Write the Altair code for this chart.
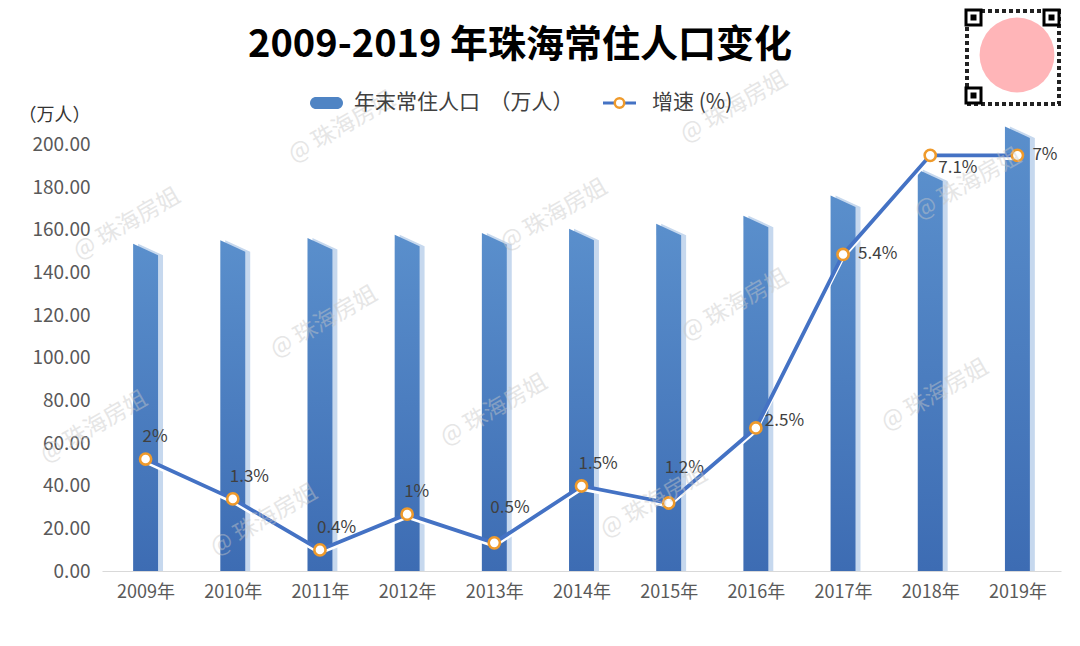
import json
import altair as alt
import pandas as pd

# ---------------- data ----------------
years = ["2009年", "2010年", "2011年", "2012年", "2013年", "2014年",
         "2015年", "2016年", "2017年", "2018年", "2019年"]
population = [153.5, 155.2, 156.2, 157.7, 158.5, 160.6, 162.9, 166.7, 176.1, 188.3, 208.5]
growth = [1.91, 1.23, 0.36, 0.97, 0.48, 1.45, 1.16, 2.44, 5.40, 7.09, 7.09]
growth_labels = ["2%", "1.3%", "0.4%", "1%", "0.5%", "1.5%", "1.2%", "2.5%", "5.4%", "7.1%", "7%"]
y_ticks = [0, 20, 40, 60, 80, 100, 120, 140, 160, 180, 200]

FONT = "Noto Sans CJK SC"
HALF_W = 0.143      # half of the bar face width (category units)
SIDE_SHIFT = 0.057  # shift of the light "side" face
SLANT = 5.4         # drop of the slanted bar top (value units)

# polygon outline of every bar, derived from the data
bar_rows = []
for i, v in enumerate(population):
    bar_rows.append({"i": i, "x": i - HALF_W, "y": v})
    bar_rows.append({"i": i, "x": i + HALF_W, "y": v - SLANT})
bars = pd.DataFrame(bar_rows)

line_df = pd.DataFrame({"i": list(range(len(years))), "g": growth, "lab": growth_labels})

xscale = alt.Scale(domain=[-0.5, len(years) - 0.5], nice=False, zero=False)
yscale = alt.Scale(domain=[0, 220], nice=False)
gscale = alt.Scale(domain=[0, 8], nice=False)

x_axis = alt.Axis(values=list(range(len(years))),
                  labelExpr=f"{json.dumps(years, ensure_ascii=False)}[datum.value]",
                  grid=False, ticks=False, domainColor="#d9d9d9", domainWidth=1.2,
                  labelFont=FONT, labelFontSize=18, labelColor="#595959",
                  labelPadding=12, title=None)
y_axis = alt.Axis(values=y_ticks, format=".2f", grid=False, ticks=False, domain=False,
                  labelFont=FONT, labelFontSize=19, labelColor="#595959", labelPadding=12,
                  title="（万人）", titleAngle=0, titleX=-84, titleY=13,
                  titleAlign="left", titleBaseline="middle", titleFont=FONT,
                  titleFontSize=18, titleFontWeight="normal", titleColor="#333333")


def X(field):
    return alt.X(field, scale=xscale, axis=x_axis)


side = alt.Chart(bars).transform_calculate(
    xs=f"datum.x + {SIDE_SHIFT}"
).mark_area(color="#c6d8ee", line=False, interpolate="linear").encode(
    x=X("xs:Q"),
    y=alt.Y("y:Q", scale=yscale, axis=y_axis, stack=None),
    detail="i:N",
)

front_grad = alt.Gradient(
    gradient="linear",
    stops=[alt.GradientStop(color="#5a8fcc", offset=0),
           alt.GradientStop(color="#3d6cb3", offset=1)],
    x1=0, x2=0, y1=0, y2=1,
)
front = alt.Chart(bars).mark_area(color=front_grad, line=False, interpolate="linear").encode(
    x=X("x:Q"),
    y=alt.Y("y:Q", scale=yscale, axis=None, stack=None),
    detail="i:N",
)

glow = alt.Chart(line_df).transform_calculate(
    gs="datum.g - 0.05"
).mark_line(color="white", strokeWidth=3.5).encode(
    x=X("i:Q"),
    y=alt.Y("gs:Q", scale=gscale, axis=None),
)
line = alt.Chart(line_df).mark_line(color="#4472c4", strokeWidth=3.8).encode(
    x=X("i:Q"),
    y=alt.Y("g:Q", scale=gscale, axis=None),
)
points = alt.Chart(line_df).mark_circle(
    color="white", opacity=1, stroke="#ef9a2b", strokeWidth=2.6, size=125
).encode(
    x=X("i:Q"),
    y=alt.Y("g:Q", scale=gscale, axis=None),
)


def labels(indices, dx, dy):
    cond = " || ".join(f"datum.i == {k}" for k in indices)
    return alt.Chart(line_df).transform_filter(cond).mark_text(
        align="left", baseline="middle", dx=dx, dy=dy,
        font=FONT, fontSize=17, color="#404040"
    ).encode(
        x=X("i:Q"),
        y=alt.Y("g:Q", scale=gscale, axis=None),
        text="lab:N",
    )


lab_layers = [
    labels([0, 1, 2, 3, 5], -3, -22),
    labels([4, 6], -4, -35),
    labels([7], 9, -7),
    labels([8, 10], 15, 0),
    labels([9], 8, 13),
]

# ---------------- decorations (title, legend, watermark, badge) ----------------
one = pd.DataFrame({"k": [0]})


def deco_text(text, px, py, **kw):
    return alt.Chart(pd.DataFrame({"t": [text]})).mark_text(**kw).encode(
        x=alt.value(px), y=alt.value(py), text="t:N")


title = deco_text("2009-2019 年珠海常住人口变化", 418, -56,
                  font=FONT, fontSize=38, fontWeight="bold", color="#000000",
                  align="center", baseline="middle")

leg_pill = alt.Chart(one).mark_rect(color="#4f84c4", cornerRadius=6).encode(
    x=alt.value(208), x2=alt.value(241), y=alt.value(-5), y2=alt.value(7))
leg_text1 = deco_text("年末常住人口 \u00a0（万人）", 252, 1, font=FONT, fontSize=21,
                      color="#404040", align="left", baseline="middle")
leg_line = alt.Chart(one).mark_rule(color="#4472c4", strokeWidth=3).encode(
    x=alt.value(501), x2=alt.value(534), y=alt.value(1))
leg_dot = alt.Chart(one).mark_circle(
    color="white", opacity=1, stroke="#ef9a2b", strokeWidth=2.5, size=90
).encode(x=alt.value(517.5), y=alt.value(1))
leg_text2 = deco_text("增速 (%)", 550, 1, font=FONT, fontSize=21,
                      color="#404040", align="left", baseline="middle")

# faint repeated watermark text
wm_spots = [(240, 25), (632, 5), (452, 113), (25, 122), (866, 82), (222, 220),
            (633, 203), (-8, 325), (392, 308), (833, 293), (162, 418),
            (552, 400)]
watermarks = [
    deco_text("@ 珠海房姐", px, py, font=FONT, fontSize=23, angle=330,
              color="#c8c8c8", opacity=0.45, align="center", baseline="middle")
    for px, py in wm_spots
]

# QR-badge corner (covered by a pink disc in the reference)
qr_frame = alt.Chart(one).mark_rect(fill=None, stroke="#222222", strokeWidth=4,
                                   strokeDash=[4, 3]).encode(
    x=alt.value(865), x2=alt.value(957), y=alt.value(-91), y2=alt.value(2))
qr_layers = [qr_frame]
for fx, fy in [(864, -92), (942, -92), (864, -14)]:
    qr_layers.append(alt.Chart(one).mark_rect(fill="white", stroke="black", strokeWidth=3).encode(
        x=alt.value(fx), x2=alt.value(fx + 15), y=alt.value(fy), y2=alt.value(fy + 15)))
    qr_layers.append(alt.Chart(one).mark_rect(fill="black").encode(
        x=alt.value(fx + 4.5), x2=alt.value(fx + 10.5),
        y=alt.value(fy + 4.5), y2=alt.value(fy + 10.5)))
pink = alt.Chart(one).mark_circle(color="#ffb5b8", opacity=1, size=5600).encode(
    x=alt.value(915), y=alt.value(-47))

chart = alt.layer(
    side, front, glow, line, points, *lab_layers, *watermarks,
    title, leg_pill, leg_text1, leg_line, leg_dot, leg_text2,
    *qr_layers, pink
).resolve_scale(y="independent").properties(
    width=959, height=469,
    autosize=alt.AutoSizeParams(type="none"),
    padding={"left": 94, "top": 94, "right": 11, "bottom": 67},
    background="white",
).configure_view(stroke=None)

chart.save("out.html", embed_options={"renderer": "svg", "actions": False})
